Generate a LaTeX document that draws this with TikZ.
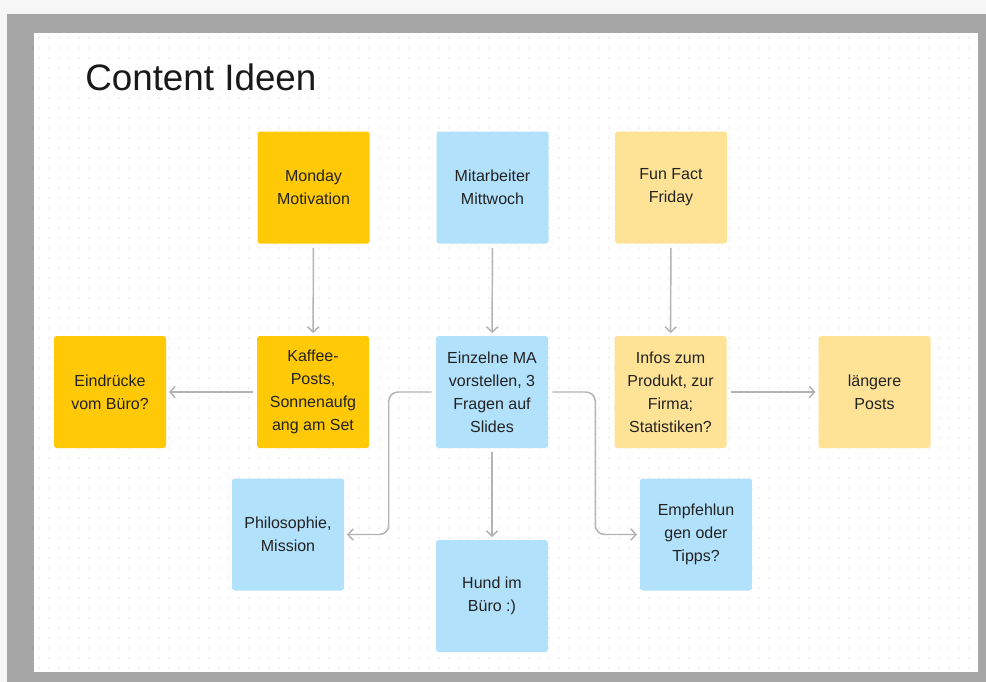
\documentclass[tikz,border=0pt]{standalone}
\usepackage{fontspec}
\setmainfont{Liberation Sans}
\usetikzlibrary{arrows.meta}

\definecolor{outerbg}{HTML}{F6F6F6}
\definecolor{framegray}{HTML}{A6A6A6}
\definecolor{dotgray}{HTML}{E4E4E4}
\definecolor{linkgray}{HTML}{B3B3B3}
\definecolor{stickytext}{HTML}{222222}
\definecolor{yellowstrong}{HTML}{FFCA05}
\definecolor{yellowlight}{HTML}{FEE396}
\definecolor{bluelight}{HTML}{B2E1FC}

\tikzset{
  sticky/.style={minimum width=84pt, minimum height=84pt, inner sep=0pt,
    align=center, rounded corners=2pt, text=stickytext,
    font=\fontsize{12}{17.25}\selectfont},
  strongnote/.style={sticky, fill=yellowstrong},
  lightnote/.style={sticky, fill=yellowlight},
  bluenote/.style={sticky, fill=bluelight},
  link/.style={draw=linkgray, line width=1.1pt,
    -{Straight Barb[length=4pt,width=8.5pt]},
    shorten <=3pt, shorten >=2pt}
}

\begin{document}
\begin{tikzpicture}[x=0.75pt,y=-0.75pt]
    \useasboundingbox (0,0) rectangle (986,682);
    % Frame and board
    \fill [outerbg] (0,0) rectangle (986,682);
    \fill [framegray] (7,14) rectangle (986,682);
    \fill [white] (34,33) rectangle (978,672);
    % Dotted grid
    \foreach \y in {38,48,...,668}
        \draw [dotgray, line width=1.3pt, line cap=round, dash pattern=on 0pt off 7.5pt] (39,\y) -- (975,\y);

    \node [anchor=base west, inner sep=0pt, font=\fontsize{27.6}{30}\selectfont, text=black!90] (title) at (85,90) {Content Ideen};

    % Top row
    \node [strongnote] (monday) at (313.5,187.5) {Monday\\Motivation};
    \node [bluenote] (mitarbeiter) at (492.5,187.5) {Mitarbeiter\\Mittwoch};
    \node [lightnote] (funfact) at (671,187.5) {Fun Fact\\Friday};

    % Middle row
    \node [strongnote] (eindruecke) at (110,392) {Eindrücke\\vom Büro?};
    \node [strongnote] (kaffee) at (313,392) {Kaffee-\\Posts,\\Sonnenaufg\\ang am Set};
    \node [bluenote] (einzelne) at (492,392) {Einzelne MA\\vorstellen, 3\\Fragen auf\\Slides};
    \node [lightnote] (infos) at (670.5,392) {Infos zum\\Produkt, zur\\Firma;\\Statistiken?};
    \node [lightnote] (laengere) at (874.5,392) {längere\\Posts};

    % Bottom row
    \node [bluenote] (philo) at (288,534.5) {Philosophie,\\Mission};
    \node [bluenote] (hund) at (492,596) {Hund im\\Büro :)};
    \node [bluenote] (empf) at (696,534.5) {Empfehlun\\gen oder\\Tipps?};

    % Connectors
    \draw [link] (monday) -- (kaffee);
    \draw [link] (mitarbeiter) -- (einzelne);
    \draw [link] (funfact) -- (infos);
    \draw [link] (kaffee) -- (eindruecke);
    \draw [link] (infos) -- (laengere);
    \draw [link] (einzelne) -- (hund);
    \draw [link, rounded corners=7pt] (einzelne.west) -- ++(-47,0) |- (philo.east);
    \draw [link, rounded corners=7pt] (einzelne.east) -- ++(47,0) |- (empf.west);
\end{tikzpicture}
\end{document}
